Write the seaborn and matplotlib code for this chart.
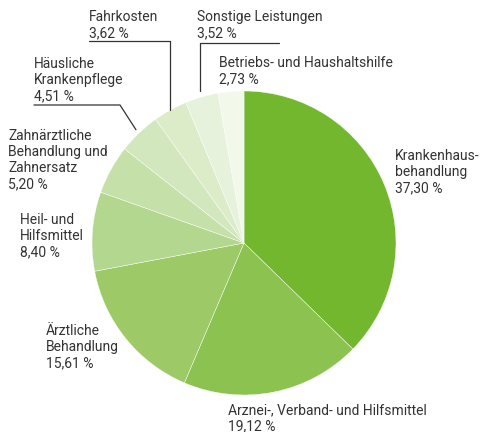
import numpy as np
import seaborn as sns
import matplotlib
import matplotlib.pyplot as plt

matplotlib.use('Agg')

labels = ['Krankenhaus-\nbehandlung',
          'Arznei-, Verband- und Hilfsmittel',
          'Ärztliche\nBehandlung',
          'Heil- und\nHilfsmittel',
          'Zahnärztliche\nBehandlung und\nZahnersatz',
          'Häusliche\nKrankenpflege',
          'Fahrkosten',
          'Sonstige Leistungen',
          'Betriebs- und Haushaltshilfe']
shares = [37.30, 19.12, 15.61, 8.40, 5.20, 4.51, 3.62, 3.52, 2.73]
colors = ['#73b72f', '#8cc24f', '#9dca66', '#b4d78f', '#c5e0a8',
          '#d2e7bd', '#dcecc9', '#e7f2dc', '#f2f8ea']

# Textpositionen (Pixel, obere linke Ecke)
label_pos = [(395, 149), (228, 403), (46, 324), (20, 213), (8, 129),
             (34, 57), (89, 10), (197, 10), (219, 56)]

W, H = 481, 432
CX, CY, R = 244, 243, 152
TXT = '#333333'

sns.set_style('white')
plt.rcParams['font.family'] = ['Roboto', 'DejaVu Sans']

fig = plt.figure(figsize=(W / 100, H / 100), dpi=100)
ax = fig.add_axes([0, 0, 1, 1])

ax.pie(shares, colors=colors, startangle=90, counterclock=False,
       center=(CX, H - CY), radius=R,
       wedgeprops=dict(edgecolor='white', linewidth=0.3))

# Achsen nach pie() auf Pixelkoordinaten setzen
ax.set_xlim(0, W)
ax.set_ylim(0, H)
ax.set_aspect('equal')
ax.axis('off')

for lab, val, (px, py) in zip(labels, shares, label_pos):
    txt = f'{lab}\n{val:.2f} %'.replace('.', ',')
    ax.text(px, H - py, txt, ha='left', va='top', fontsize=10,
            color=TXT, linespacing=1.2)

# Mittelwinkel der Segmente (im Uhrzeigersinn ab 12 Uhr)
cum = np.cumsum([0] + shares[:-1])
mid = (cum + np.array(shares) / 2) / sum(shares) * 2 * np.pi


def edge_point(i, k=1.03):
    return CX + np.sin(mid[i]) * R * k, H - (CY - np.cos(mid[i]) * R * k)


# Fahrkosten: senkrecht nach oben, Unterstrich nach links
x, y = edge_point(6, 1.0)
ax.plot([89, x, x], [H - 41, H - 41, y], color=TXT, lw=0.9)
# Sonstige Leistungen: senkrecht nach oben, Unterstrich nach rechts
x, y = edge_point(7, 1.04)
ax.plot([279, x, x], [H - 43, H - 43, y], color=TXT, lw=0.9)
# Häusliche Krankenpflege: schräg, Unterstrich nach links
x, y = edge_point(5, 1.03)
ax.plot([34, 120, x], [H - 105, H - 105, y], color=TXT, lw=0.9)

fig.savefig('out.png', dpi=100)
